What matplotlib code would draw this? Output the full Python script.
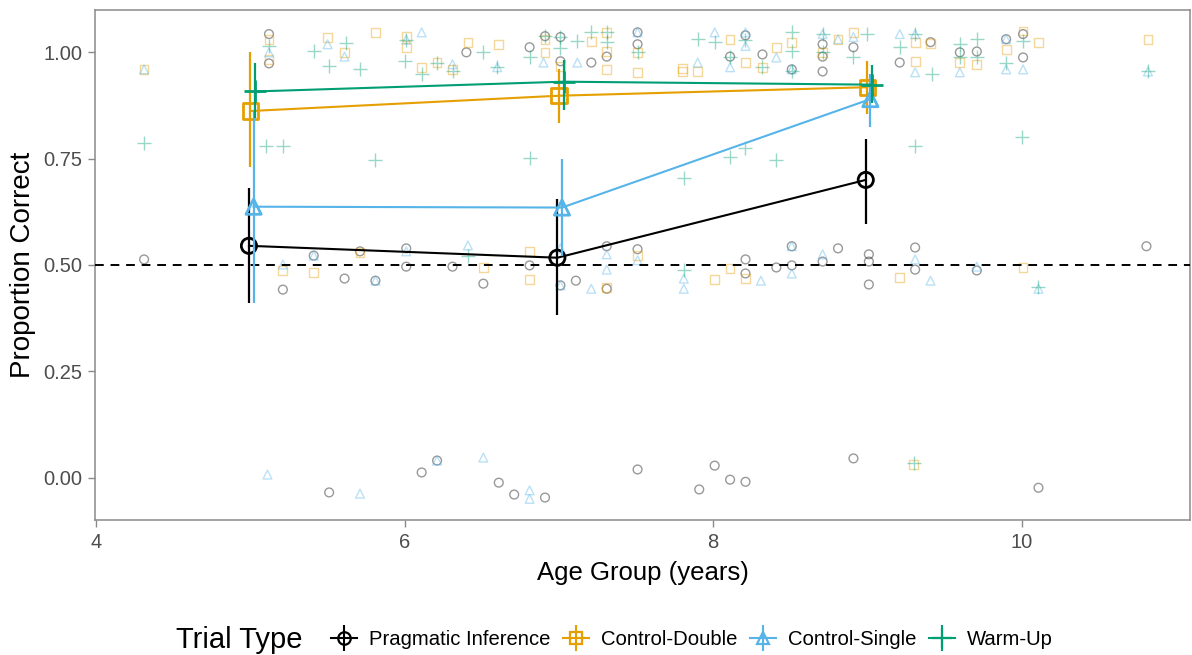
import matplotlib
matplotlib.use("Agg")
import matplotlib.pyplot as plt
from matplotlib.lines import Line2D
from matplotlib.legend_handler import HandlerTuple

plt.rcParams["font.family"] = ["Liberation Sans", "DejaVu Sans"]

# ---------------- data ----------------
trial_types = ["Pragmatic Inference", "Control-Double", "Control-Single", "Warm-Up"]
colors = ["#000000", "#E69F00", "#56B4E9", "#009E73"]
markers = ["o", "s", "^", "+"]

age_groups = [5, 7, 9]
prag_mean = [0.545, 0.517, 0.700]
prag_low = [0.410, 0.383, 0.597]
prag_high = [0.680, 0.655, 0.797]
double_mean = [0.862, 0.898, 0.918]
double_low = [0.730, 0.835, 0.855]
double_high = [1.000, 0.960, 0.980]
single_mean = [0.637, 0.635, 0.890]
single_low = [0.410, 0.520, 0.825]
single_high = [0.865, 0.750, 0.950]
warm_mean = [0.908, 0.931, 0.924]
warm_low = [0.845, 0.865, 0.880]
warm_high = [0.975, 0.983, 0.970]

# individual (jittered) participant scores: age, proportion
prag_age = [5.12, 5.12, 6.40, 6.81, 6.91, 7.01, 7.01, 7.21, 7.31, 7.51, 7.51, 8.11, 8.21, 8.32,
            8.51, 8.71, 8.71, 8.71, 8.91, 9.21, 9.41, 9.60, 9.71, 9.90, 10.01, 10.01,
            4.31, 5.21, 5.41, 5.61, 5.71, 5.81, 6.01, 6.01, 6.31, 6.51, 6.81, 7.01, 7.11, 7.31,
            7.31, 7.51, 8.21, 8.21, 8.41, 8.51, 8.51, 8.71, 8.81, 9.01, 9.01, 9.01, 9.31, 9.31,
            9.71, 10.81,
            5.51, 6.11, 6.21, 6.61, 6.71, 6.91, 7.51, 7.91, 8.01, 8.11, 8.21, 8.91, 10.11]
prag_prop = [1.043, 0.974, 1.000, 1.012, 1.038, 1.036, 0.979, 0.976, 0.990, 1.047, 1.019, 0.990,
             1.040, 0.995, 0.960, 1.019, 0.990, 0.955, 1.012, 0.976, 1.024, 1.000, 1.002, 1.031,
             1.043, 0.988,
             0.513, 0.442, 0.522, 0.468, 0.532, 0.463, 0.539, 0.496, 0.496, 0.456, 0.499, 0.452,
             0.463, 0.544, 0.444, 0.537, 0.513, 0.480, 0.494, 0.544, 0.499, 0.508, 0.539, 0.525,
             0.508, 0.454, 0.541, 0.489, 0.487, 0.544,
             -0.035, 0.012, 0.040, -0.012, -0.040, -0.047, 0.019, -0.028, 0.028, -0.005, -0.010,
             0.045, -0.024]

double_age = [4.31, 5.12, 5.12, 5.50, 5.61, 5.81, 6.01, 6.01, 6.11, 6.21, 6.31, 6.41, 6.61, 6.91,
              6.91, 7.01, 7.21, 7.31, 7.31, 7.31, 7.51, 7.51, 7.80, 7.80, 7.90, 8.11, 8.21, 8.32,
              8.41, 8.51, 8.71, 8.81, 8.91, 9.31, 9.41, 9.31, 9.60, 9.71, 9.90, 10.01, 10.11, 10.82,
              5.21, 5.41, 5.71, 6.51, 6.81, 6.81, 7.31, 7.51, 8.01, 8.11, 8.21, 9.21, 10.01,
              9.30]
double_prop = [0.960, 1.030, 0.983, 1.035, 1.000, 1.047, 1.038, 1.012, 0.965, 0.976, 0.960, 1.023,
               1.019, 1.030, 1.000, 0.967, 1.026, 1.047, 1.002, 0.960, 1.000, 0.953, 0.955, 0.962,
               0.955, 1.031, 0.976, 0.965, 1.012, 1.024, 1.000, 1.031, 1.047, 1.024, 1.020, 0.979,
               0.976, 0.972, 1.007, 1.050, 1.024, 1.031,
               0.487, 0.482, 0.530, 0.494, 0.532, 0.466, 0.447, 0.522, 0.466, 0.492, 0.468, 0.470,
               0.494,
               0.030]

single_age = [4.31, 5.12, 5.50, 5.61, 6.01, 6.11, 6.31, 6.60, 6.90, 7.12, 7.51, 7.90, 8.01, 8.11,
              8.21, 8.21, 8.41, 8.51, 8.71, 8.81, 8.91, 9.21, 9.31, 9.31, 9.60, 9.90, 9.90, 10.01,
              10.82,
              5.21, 5.41, 5.81, 6.01, 6.41, 7.01, 7.01, 7.21, 7.31, 7.31, 7.51, 7.81, 7.81, 8.31,
              8.51, 8.51, 8.71, 9.31, 9.41, 9.71, 10.11,
              5.11, 5.71, 6.21, 6.51, 6.81, 6.81]
single_prop = [0.960, 1.000, 1.019, 0.990, 1.030, 1.047, 0.972, 0.965, 0.976, 0.976, 1.047, 0.976,
               1.047, 0.965, 1.047, 1.015, 0.988, 0.960, 1.043, 1.031, 1.036, 1.043, 1.043, 0.953,
               0.953, 1.031, 0.960, 0.960, 0.955,
               0.501, 0.522, 0.463, 0.532, 0.546, 0.539, 0.452, 0.444, 0.525, 0.489, 0.511, 0.468,
               0.444, 0.463, 0.544, 0.480, 0.525, 0.513, 0.463, 0.496, 0.444,
               0.007, -0.038, 0.040, 0.047, -0.030, -0.050]

warm_age = [5.12, 5.41, 5.62, 5.51, 5.71, 6.01, 6.00, 6.11, 6.21, 6.31, 6.51, 6.60, 6.81, 6.91,
            7.01, 7.01, 7.12, 7.21, 7.31, 7.31, 7.51, 7.90, 8.01, 8.11, 8.21, 8.32, 8.51, 8.51,
            8.51, 8.71, 8.71, 8.91, 9.00, 9.21, 9.31, 9.42, 9.60, 9.60, 9.71, 9.71, 9.90, 10.01,
            10.82,
            4.31, 5.10, 5.21, 5.81, 6.81, 7.81, 8.11, 8.21, 8.41, 9.31, 10.00,
            6.41, 7.81, 10.11, 9.30]
warm_prop = [1.014, 1.002, 1.021, 0.967, 0.960, 1.030, 0.979, 0.948, 0.976, 0.955, 1.000, 0.965,
             0.990, 1.038, 1.036, 1.010, 1.026, 1.047, 1.047, 1.024, 1.000, 1.031, 1.024, 0.990,
             1.030, 0.965, 1.047, 1.002, 0.955, 1.043, 1.000, 0.990, 1.043, 1.012, 1.043, 0.948,
             1.019, 0.990, 1.031, 0.990, 0.976, 1.026, 0.955,
             0.787, 0.780, 0.780, 0.747, 0.752, 0.705, 0.755, 0.775, 0.747, 0.780, 0.800,
             0.522, 0.489, 0.447, 0.035]

x_ticks = [4, 6, 8, 10]
y_ticks = [0.00, 0.25, 0.50, 0.75, 1.00]
y_tick_labels = ["0.00", "0.25", "0.50", "0.75", "1.00"]
chance_level = 0.5

# ---------------- plot ----------------
fig = plt.figure(figsize=(11.92, 6.55), dpi=100)
ax = fig.add_axes([0.080, 0.206, 0.918, 0.779])

raw = [(prag_age, prag_prop), (double_age, double_prop),
       (single_age, single_prop), (warm_age, warm_prop)]
summ = [(prag_mean, prag_low, prag_high), (double_mean, double_low, double_high),
        (single_mean, single_low, single_high), (warm_mean, warm_low, warm_high)]
dodge = [-0.01, 0.0, 0.02, 0.03]

for (xs, ys), c, m in zip(raw, colors, markers):
    if m == "+":
        ax.scatter(xs, ys, marker=m, s=90, color=c, alpha=0.4, linewidths=1.0, zorder=2)
    else:
        ax.scatter(xs, ys, marker=m, s=40, facecolors="none", edgecolors=c, alpha=0.4,
                   linewidths=1.0, zorder=2)

ax.axhline(chance_level, color="black", lw=1.4, ls=(0, (4.5, 3.5)), zorder=3)

for i, ((mn, lo, hi), c, m) in enumerate(zip(summ, colors, markers)):
    xs = [a + dodge[i] for a in age_groups]
    ax.plot(xs, mn, color=c, lw=1.5, zorder=4 + i)
    ax.vlines(xs, lo, hi, color=c, lw=1.6, zorder=4 + i)
    if m == "+":
        ax.scatter(xs, mn, marker=m, s=260, color=c, linewidths=2.0, zorder=4 + i)
    else:
        ax.scatter(xs, mn, marker=m, s=120, facecolors="none", edgecolors=c,
                   linewidths=2.0, zorder=4 + i)

ax.set_xlim(3.994, 11.09)
ax.set_ylim(-0.10, 1.10)
ax.set_xticks(x_ticks)
ax.set_xticklabels([str(v) for v in x_ticks])
ax.set_yticks(y_ticks)
ax.set_yticklabels(y_tick_labels)
ax.tick_params(axis="both", labelsize=14.5, colors="#8A8A8A", length=5, width=1.0,
               labelcolor="#4D4D4D", pad=4.5)
for sp in ax.spines.values():
    sp.set_color("#8A8A8A")
    sp.set_linewidth(1.1)
ax.set_xlabel("Age Group (years)", fontsize=18.5, labelpad=6)
ax.set_ylabel("Proportion Correct", fontsize=20, labelpad=5)

# legend
handles = []
for c, m in zip(colors, markers):
    if m == "+":
        h1 = Line2D([], [], color=c, lw=1.5, marker="+", markersize=14, markeredgewidth=1.6)
    else:
        h1 = Line2D([], [], color=c, lw=1.5, marker=m, markersize=9, markerfacecolor="none",
                    markeredgewidth=1.6)
    h2 = Line2D([], [], color=c, lw=0, marker="|", markersize=19, markeredgewidth=1.5)
    handles.append((h1, h2))

fig.text(0.148, 0.023, "Trial Type", fontsize=21, ha="left", va="center")
leg = fig.legend(handles, trial_types, loc="center left", bbox_to_anchor=(0.262, 0.023),
                 ncol=4, frameon=False, fontsize=14.6, handlelength=1.3, handletextpad=0.6,
                 columnspacing=0.6, handler_map={tuple: HandlerTuple(ndivide=1, pad=0)})

fig.savefig("out.png", dpi=100)
